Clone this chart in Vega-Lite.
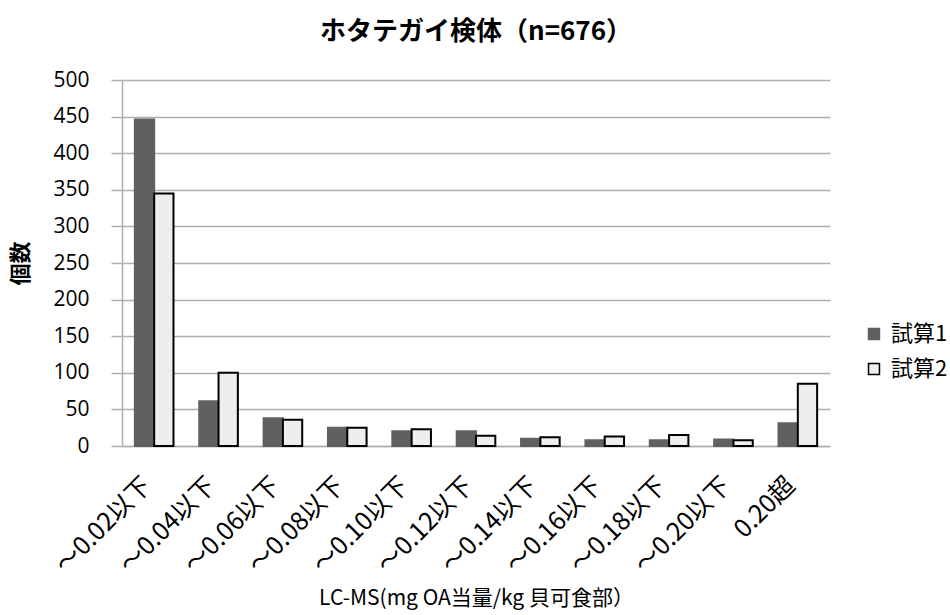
{
  "$schema": "https://vega.github.io/schema/vega-lite/v6.json",
  "width": 708,
  "height": 366,
  "autosize": {"type": "none"},
  "padding": {"left": 122, "top": 80, "right": 120, "bottom": 169},
  "background": "#ffffff",
  "title": {
    "text": "ホタテガイ検体（n=676）",
    "font": "Noto Sans CJK JP",
    "fontSize": 26,
    "fontWeight": "bold",
    "color": "#000000",
    "anchor": "middle",
    "offset": 24
  },
  "config": {
    "view": {"stroke": null},
    "font": "Noto Sans CJK JP"
  },
  "data": {
    "values": [
      {"category": "～0.02以下", "series": "試算1", "count": 446},
      {"category": "～0.02以下", "series": "試算2", "count": 345},
      {"category": "～0.04以下", "series": "試算1", "count": 61},
      {"category": "～0.04以下", "series": "試算2", "count": 100},
      {"category": "～0.06以下", "series": "試算1", "count": 38},
      {"category": "～0.06以下", "series": "試算2", "count": 36},
      {"category": "～0.08以下", "series": "試算1", "count": 25},
      {"category": "～0.08以下", "series": "試算2", "count": 25},
      {"category": "～0.10以下", "series": "試算1", "count": 20},
      {"category": "～0.10以下", "series": "試算2", "count": 23},
      {"category": "～0.12以下", "series": "試算1", "count": 20},
      {"category": "～0.12以下", "series": "試算2", "count": 14},
      {"category": "～0.14以下", "series": "試算1", "count": 10},
      {"category": "～0.14以下", "series": "試算2", "count": 12},
      {"category": "～0.16以下", "series": "試算1", "count": 8},
      {"category": "～0.16以下", "series": "試算2", "count": 13},
      {"category": "～0.18以下", "series": "試算1", "count": 8},
      {"category": "～0.18以下", "series": "試算2", "count": 15},
      {"category": "～0.20以下", "series": "試算1", "count": 9},
      {"category": "～0.20以下", "series": "試算2", "count": 8},
      {"category": "0.20超", "series": "試算1", "count": 31},
      {"category": "0.20超", "series": "試算2", "count": 85}
    ]
  },
  "mark": {"type": "bar", "strokeWidth": 2},
  "encoding": {
    "x": {
      "field": "category",
      "type": "nominal",
      "sort": null,
      "scale": {"paddingInner": 0.4, "paddingOuter": 0.2},
      "axis": {
        "title": "LC-MS(mg OA当量/kg 貝可食部）",
        "titleFont": "Noto Sans CJK JP",
        "titleFontSize": 21,
        "titleFontWeight": "normal",
        "titleColor": "#000000",
        "titleY": 152,
        "titleBaseline": "middle",
        "labelAngle": -45,
        "labelAlign": "right",
        "labelBaseline": "middle",
        "labelFont": "Noto Sans CJK JP",
        "labelFontSize": 25,
        "labelColor": "#000000",
        "labelPadding": 35,
        "labelOffset": -7,
        "labelBound": false,
        "labelOverlap": false,
        "ticks": false,
        "domainColor": "#b0b0b0",
        "domainWidth": 1.5,
        "grid": false
      }
    },
    "xOffset": {"field": "series", "type": "nominal"},
    "y": {
      "field": "count",
      "type": "quantitative",
      "scale": {"domain": [0, 500], "nice": false},
      "axis": {
        "title": "個数",
        "titleFont": "Noto Sans CJK JP",
        "titleFontSize": 22,
        "titleFontWeight": "bold",
        "titleColor": "#000000",
        "titlePadding": 20,
        "values": [0, 50, 100, 150, 200, 250, 300, 350, 400, 450, 500],
        "labelFont": "Open Sans",
        "labelFontSize": 21,
        "labelColor": "#000000",
        "labelPadding": 22,
        "tickSize": 11,
        "tickColor": "#b0b0b0",
        "tickWidth": 1.5,
        "domainColor": "#b0b0b0",
        "domainWidth": 1.5,
        "gridColor": "#b0b0b0",
        "gridWidth": 1.5
      }
    },
    "fill": {
      "field": "series",
      "type": "nominal",
      "scale": {"range": ["#606060", "#eeeeee"]},
      "legend": {
        "title": null,
        "orient": "none",
        "legendX": 741,
        "legendY": 243,
        "symbolType": "square",
        "symbolSize": 120,
        "symbolStrokeWidth": 1.5,
        "labelFont": "Noto Sans CJK JP",
        "labelFontSize": 22,
        "labelColor": "#000000",
        "rowPadding": 13,
        "labelOffset": 6
      }
    },
    "stroke": {
      "field": "series",
      "type": "nominal",
      "scale": {"range": ["#606060", "#000000"]},
      "legend": null
    }
  }
}
